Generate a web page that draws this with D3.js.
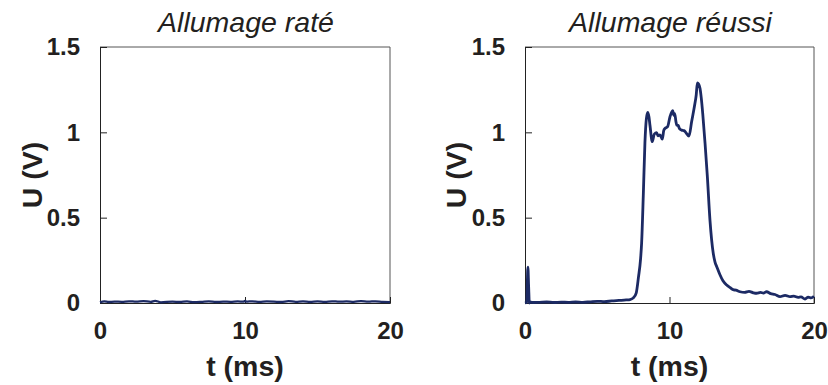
<!DOCTYPE html>
<html>
<head>
<meta charset="utf-8">
<script src="https://cdn.jsdelivr.net/npm/d3@7/dist/d3.min.js"></script>
<style>
  html, body { margin: 0; padding: 0; background: #fff; }
  svg { display: block; }
  text { font-family: "Liberation Sans", Arial, sans-serif; fill: #231f20; }
</style>
</head>
<body>
<svg id="chart" width="828" height="385"></svg>
<script>
// ---- data ----
const titles = ["Allumage raté", "Allumage réussi"];
const xLabel = "t (ms)";
const yLabel = "U (V)";
const xTicks = [0, 10, 20];
const yTicks = [0, 0.5, 1, 1.5];

// Panel 1: failed ignition (signal stays near zero)
const tMiss = [0, 0.3, 0.6, 1, 1.5, 2, 2.5, 3, 3.5, 3.8, 4.2, 5, 5.5, 6, 6.5, 7, 7.5, 8, 8.5, 9, 9.5, 9.9, 10, 10.1, 10.5, 11, 11.5, 12, 12.5, 13, 13.5, 14, 14.5, 15, 15.5, 16, 16.5, 17, 17.5, 18, 18.5, 19, 19.5, 20];
const uMiss = [0.004, 0.01, 0.006, 0.008, 0.007, 0.01, 0.008, 0.011, 0.007, 0.013, 0.004, 0.008, 0.006, 0.009, 0.005, 0.007, 0.01, 0.006, 0.008, 0.007, 0.009, 0.008, 0.012, 0.008, 0.01, 0.007, 0.009, 0.008, 0.006, 0.011, 0.007, 0.01, 0.006, 0.009, 0.007, 0.01, 0.008, 0.009, 0.007, 0.011, 0.008, 0.01, 0.006, 0.005];

// Panel 2: successful ignition
const tHit = [0, 0.12, 0.2, 0.25, 0.3, 0.4, 0.6, 1.0, 1.5, 2.0, 2.5, 3.0, 3.5, 4.0, 4.5, 5.0, 5.5, 6.0, 6.5, 7.0, 7.27, 7.5, 7.7, 7.85, 8.0, 8.07, 8.19, 8.3, 8.4, 8.49, 8.58, 8.65, 8.81, 8.95, 9.11, 9.2, 9.34, 9.5, 9.6, 9.69, 9.87, 10.03, 10.22, 10.3, 10.36, 10.45, 10.5, 10.6, 10.7, 10.84, 11.0, 11.14, 11.35, 11.53, 11.72, 11.85, 11.93, 12.0, 12.11, 12.2, 12.3, 12.46, 12.62, 12.8, 13.03, 13.15, 13.27, 13.5, 13.7, 13.96, 14.2, 14.4, 14.6, 14.88, 15.2, 15.5, 15.8, 16.03, 16.3, 16.5, 16.72, 17.0, 17.3, 17.65, 18.0, 18.34, 18.6, 18.9, 19.1, 19.38, 19.6, 19.8, 20];
const uHit = [0.0, 0.005, 0.21, 0.1, 0.0, 0.005, 0.003, 0.004, 0.006, 0.003, 0.005, 0.004, 0.006, 0.004, 0.007, 0.01, 0.008, 0.012, 0.015, 0.018, 0.02, 0.03, 0.06, 0.15, 0.26, 0.35, 0.64, 0.94, 1.08, 1.117, 1.09, 1.04, 0.945, 0.99, 0.998, 0.98, 0.985, 0.96, 1.01, 1.023, 1.033, 1.09, 1.127, 1.1, 1.11, 1.06, 1.043, 1.04, 1.02, 1.013, 1.01, 0.998, 0.978, 1.062, 1.15, 1.22, 1.29, 1.285, 1.258, 1.2, 1.11, 0.936, 0.74, 0.486, 0.29, 0.24, 0.213, 0.164, 0.13, 0.105, 0.09, 0.078, 0.075, 0.066, 0.062, 0.068, 0.06, 0.057, 0.062, 0.058, 0.066, 0.055, 0.05, 0.037, 0.045, 0.037, 0.04, 0.033, 0.036, 0.023, 0.035, 0.03, 0.04];

// ---- drawing ----
const svg = d3.select("#chart");
const lineColor = "#1c2a64";

const panels = [
  { title: titles[0], t: tMiss, u: uMiss, x0: 100, x1: 390, ylabX: 42, width: 2.3 },
  { title: titles[1], t: tHit, u: uHit, x0: 525, x1: 814, ylabX: 466, width: 2.8 }
];
const yTop = 47, yBot = 303;

panels.forEach(p => {
  const x = d3.scaleLinear().domain([0, 20]).range([p.x0, p.x1]);
  const y = d3.scaleLinear().domain([0, 1.5]).range([yBot, yTop]);
  const g = svg.append("g");

  // frame (top & right)
  g.append("path")
    .attr("d", `M${p.x0},${yTop}H${p.x1}V${yBot}`)
    .attr("fill", "none").attr("stroke", "#555").attr("stroke-width", 1);

  // y axis
  const ya = g.append("g").attr("transform", `translate(${p.x0},0)`)
    .call(d3.axisLeft(y).tickValues(yTicks).tickSize(-7).tickPadding(20)
      .tickFormat(d => String(d)));
  ya.select(".domain").attr("stroke", "#222");
  ya.selectAll(".tick line").attr("stroke", "#222");
  ya.selectAll(".tick text").attr("font-size", 24).attr("font-weight", "bold")
    .attr("font-family", "Liberation Sans, Arial, sans-serif").attr("fill", "#231f20");

  // x axis
  const xa = g.append("g").attr("transform", `translate(0,${yBot})`)
    .call(d3.axisBottom(x).tickValues(xTicks).tickSize(-6).tickPadding(19)
      .tickFormat(d => String(d)));
  xa.select(".domain").attr("stroke", "#222");
  xa.selectAll(".tick line").attr("stroke", "#222");
  xa.selectAll(".tick text").attr("font-size", 24).attr("font-weight", "bold")
    .attr("font-family", "Liberation Sans, Arial, sans-serif").attr("fill", "#231f20");

  // curve
  const pts = p.t.map((t, i) => [t, p.u[i]]);
  g.append("path").datum(pts)
    .attr("fill", "none").attr("stroke", lineColor).attr("stroke-width", p.width)
    .attr("stroke-linejoin", "round")
    .attr("d", d3.line().x(d => x(d[0])).y(d => y(d[1])).curve(d3.curveMonotoneX));

  // title
  g.append("text").attr("x", (p.x0 + p.x1) / 2 + 1).attr("y", 32)
    .attr("text-anchor", "middle").attr("font-size", 28.5).attr("font-style", "italic")
    .text(p.title);

  // x label
  g.append("text").attr("x", (p.x0 + p.x1) / 2).attr("y", 376)
    .attr("text-anchor", "middle").attr("font-size", 28.5).attr("font-weight", "bold")
    .text(xLabel);

  // y label
  g.append("text").attr("transform", `translate(${p.ylabX},${(yTop + yBot) / 2}) rotate(-90)`)
    .attr("text-anchor", "middle").attr("font-size", 28.5).attr("font-weight", "bold")
    .text(yLabel);
});
</script>
</body>
</html>
